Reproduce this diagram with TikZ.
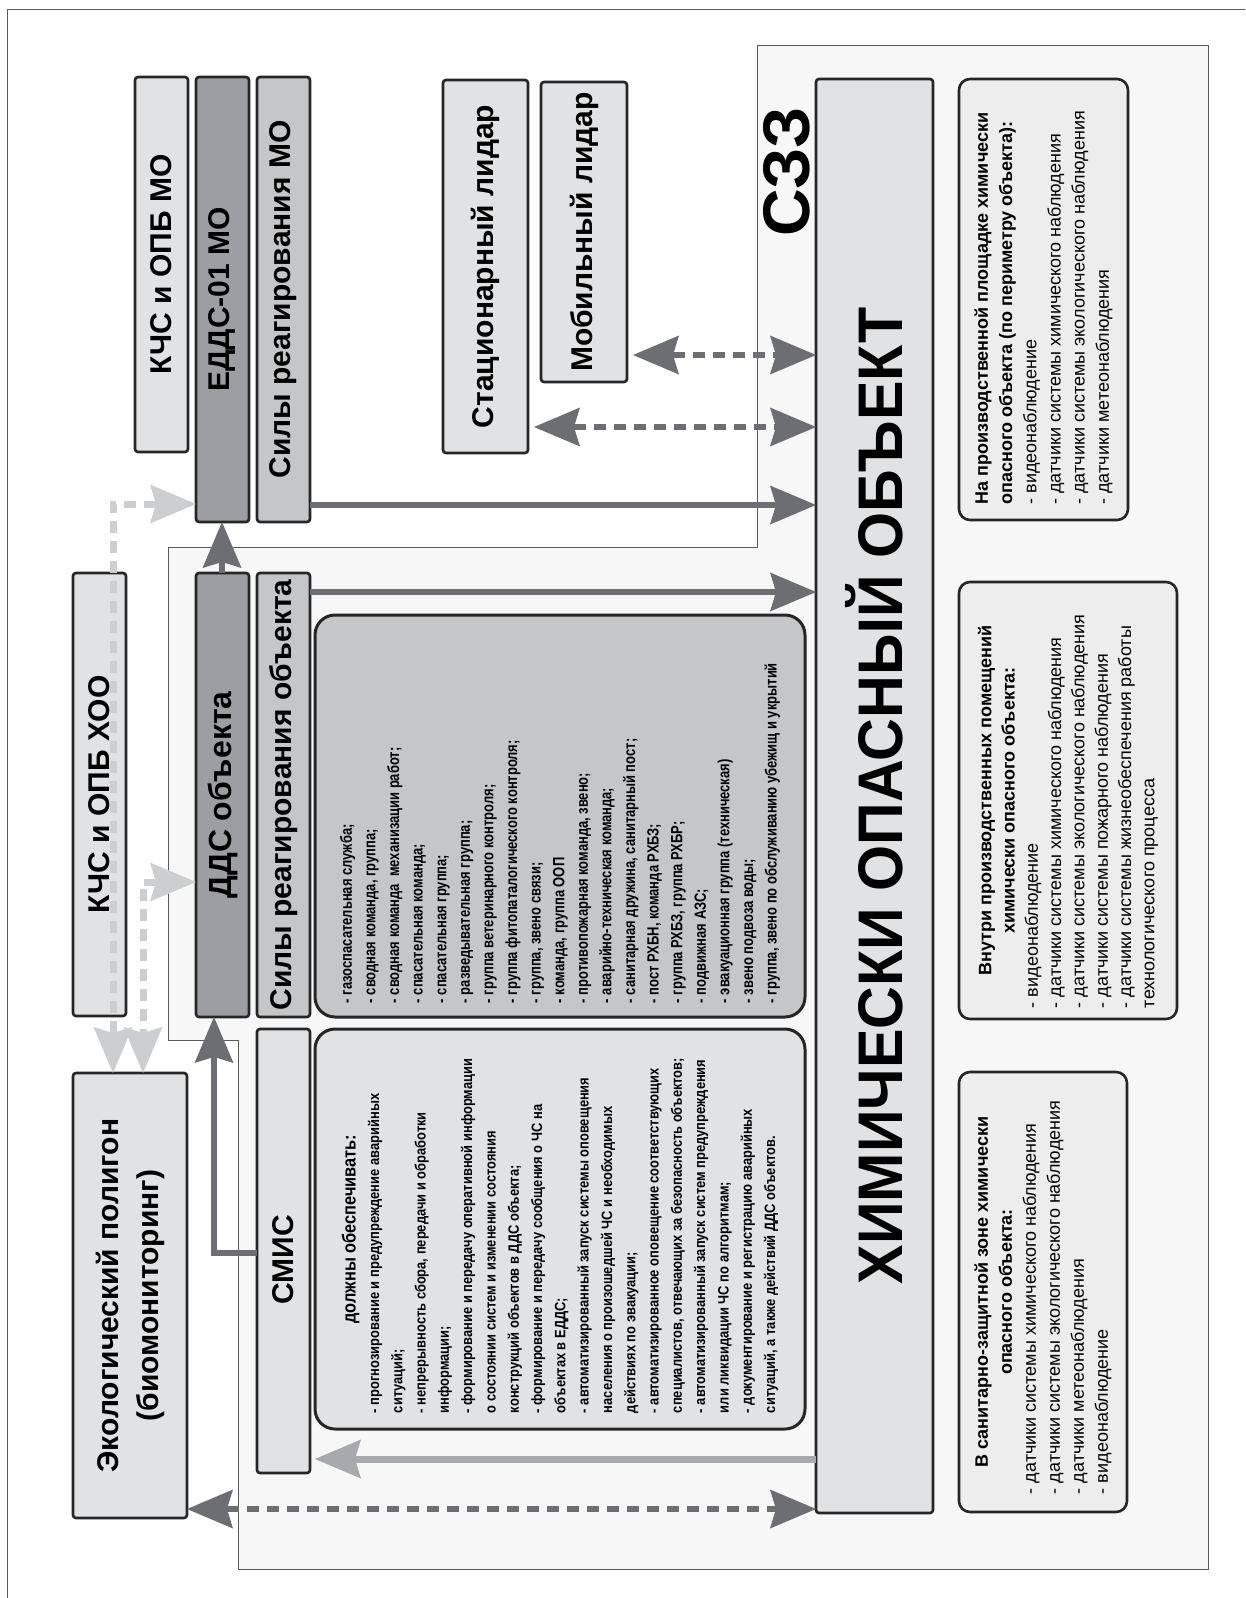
\documentclass[tikz,border=0pt]{standalone}
\usepackage{fontspec}
\setmainfont{Liberation Sans}
\newfontfamily\titlefont[FakeStretch=0.94]{Liberation Sans}
\newfontfamily\listfont[FakeStretch=0.86]{Liberation Sans}
\newfontfamily\narrowfont[FakeStretch=0.8]{Liberation Sans}
\usepackage{graphicx}
\usetikzlibrary{arrows.meta}

\definecolor{boxlight}{HTML}{E1E2E4}
\definecolor{boxmid}{HTML}{C5C6C8}
\definecolor{boxdark}{HTML}{9D9EA1}
\definecolor{infofill}{HTML}{EDEDED}
\definecolor{zonefill}{HTML}{F7F7F7}
\definecolor{arrowdark}{HTML}{6D6E71}
\definecolor{arrowlight}{HTML}{CDCED0}
\definecolor{arrowmid}{HTML}{A7A9AC}
\definecolor{framegray}{HTML}{5A5A5A}

\begin{document}
\begin{tikzpicture}[x=1pt,y=-1pt,
	bigtip/.tip={Stealth[length=46pt,width=39pt,inset=6pt,line width=0pt]},
	box/.style={draw=black!85,line width=2.6pt,rounded corners=3pt,inner sep=0pt,outer sep=0pt,anchor=north west},
	light box/.style={box,fill=boxlight},
	mid box/.style={box,fill=boxmid},
	dark box/.style={box,fill=boxdark},
	list box/.style={box,line width=3pt,rounded corners=20pt},
	info box/.style={box,fill=infofill,rounded corners=11pt},
	head font/.style={font=\bfseries\fontsize{30}{36}\selectfont},
	darrow/.style={draw=arrowdark,line width=6pt,-bigtip},
	ddash/.style={draw=arrowdark,line width=6pt,dash pattern=on 12pt off 8pt,bigtip-bigtip},
	ldash/.style={draw=arrowlight,line width=7pt,dash pattern=on 12pt off 8pt,bigtip-bigtip},
	larrow/.style={draw=arrowmid,line width=7pt,-bigtip}]

	\useasboundingbox (0,0) rectangle (1245,1598);
	\clip (0,0) rectangle (1245,1598);

	% frame and the sanitary zone
	\draw[framegray,line width=1pt] (7,9) rectangle (1270,1630);
	\draw[draw=framegray,line width=1pt,fill=zonefill] (757,45) -- (1208,45) -- (1208,1569) -- (238,1569)
		-- (238,1040) -- (168,1040) -- (168,547) -- (757,547) -- cycle;
	\node[font=\bfseries\fontsize{66}{70}\selectfont] (szz) at (787,172) {\rotatebox{90}{СЗЗ}};

	% municipal level
	\node[light box,minimum width=53pt,minimum height=375pt,head font] (kchsmo) at (135,77) {\rotatebox{90}{КЧС и ОПБ МО}};
	\node[dark box,minimum width=53pt,minimum height=445pt,head font] (eddsmo) at (196,77) {\rotatebox{90}{ЕДДС-01 МО}};
	\node[mid box,minimum width=53pt,minimum height=445pt,head font] (silymo) at (257,77) {\rotatebox{90}{Силы реагирования МО}};

	\node[light box,minimum width=85pt,minimum height=373pt,head font] (statlidar) at (443,80) {\rotatebox{90}{Стационарный лидар}};
	\node[light box,minimum width=86pt,minimum height=300pt,head font] (moblidar) at (541,82) {\rotatebox{90}{Мобильный лидар}};

	% object level
	\node[light box,minimum width=53pt,minimum height=443pt,head font] (kchshoo) at (73,573) {\rotatebox{90}{КЧС и ОПБ ХОО}};
	\node[light box,minimum width=114pt,minimum height=445pt,head font] (ekopol) at (73,1073)
		{\rotatebox{90}{\parbox{380pt}{\centering\fontsize{30}{40}\selectfont Экологический полигон\\(биомониторинг)}}};
	\node[dark box,minimum width=53pt,minimum height=444pt,head font,font=\bfseries\fontsize{32}{36}\selectfont] (ddsobj) at (196,573) {\rotatebox{90}{ДДС объекта}};
	\node[mid box,minimum width=53pt,minimum height=444pt,head font] (silyobj) at (257,573) {\rotatebox{90}{Силы реагирования объекта}};
	\node[light box,minimum width=53pt,minimum height=444pt,head font] (smis) at (257,1029) {\rotatebox{90}{СМИС\hspace*{18pt}}};

	\node[list box,fill=boxmid,minimum width=490pt,minimum height=402pt] (silylist) at (315,615)
		{\rotatebox{90}{\parbox{374pt}{\narrowfont\bfseries\fontsize{16.2}{23.6}\selectfont\raggedright
		- газоспасательная служба;\\
		- сводная команда, группа;\\
		- сводная команда \ механизации работ;\\
		- спасательная команда;\\
		- спасательная группа;\\
		- разведывательная группа;\\
		- группа ветеринарного контроля;\\
		- группа фитопаталогического контроля;\\
		- группа, звено связи;\\
		- команда, группа ООП\\
		- противопожарная команда, звено;\\
		- аварийно-техническая команда;\\
		- санитарная дружина, санитарный пост;\\
		- пост РХБН, команда РХБЗ;\\
		- группа РХБЗ, группа РХБР;\\
		- подвижная АЗС;\\
		- эвакуационная группа (техническая)\\
		- звено подвоза воды;\\
		- группа, звено по обслуживанию убежищ и укрытий}}};

	\node[list box,fill=boxlight,minimum width=490pt,minimum height=400pt] (smislist) at (315,1029)
		{\rotatebox{90}{\parbox{368pt}{\listfont\bfseries\fontsize{15}{23.3}\selectfont
		\centering{\fontsize{19}{23.3}\selectfont должны обеспечивать:}\par\raggedright
		- прогнозирование и предупреждение аварийных\\
		ситуаций;\\
		- непрерывность сбора, передачи и обработки\\
		информации;\\
		- формирование и передачу оперативной информации\\
		о состоянии систем и изменении состояния\\
		конструкций объектов в ДДС объекта;\\
		- формирование и передачу сообщения о ЧС на\\
		объектах в ЕДДС;\\
		- автоматизированный запуск системы оповещения\\
		населения о произошедшей ЧС и необходимых\\
		действиях по эвакуации;\\
		- автоматизированное оповещение соответствующих\\
		специалистов, отвечающих за безопасность объектов;\\
		- автоматизированный запуск систем предупреждения\\
		или ликвидации ЧС по алгоритмам;\\
		- документирование и регистрацию аварийных\\
		ситуаций, а также действий ДДС объектов.}}};

	% the object itself
	\node[light box,minimum width=117pt,minimum height=1434pt,font=\titlefont\bfseries\fontsize{63}{70}\selectfont] (hoo) at (816,79)
		{\rotatebox{90}{ХИМИЧЕСКИ ОПАСНЫЙ ОБЪЕКТ}};

	\node[info box,minimum width=169pt,minimum height=441pt] (infoplosh) at (959,79)
		{\rotatebox{90}{\parbox{410pt}{\fontsize{18}{24.2}\selectfont\raggedright
		\textbf{На производственной площадке химически}\\
		\textbf{опасного объекта (по периметру объекта):}\\
		- видеонаблюдение\\
		- датчики системы химического наблюдения\\
		- датчики системы экологического наблюдения\\
		- датчики метеонаблюдения}}};
	\node[info box,minimum width=218pt,minimum height=437pt] (infovnutri) at (959,582)
		{\rotatebox{90}{\parbox{415pt}{\fontsize{18}{23.3}\selectfont
		\centering\textbf{Внутри производственных помещений}\\
		\textbf{химически опасного объекта:}\par\raggedright
		- видеонаблюдение\\
		- датчики системы химического наблюдения\\
		- датчики системы экологического наблюдения\\
		- датчики системы пожарного наблюдения\\
		- датчики системы жизнеобеспечения работы\\
		технологического процесса}}};
	\node[info box,minimum width=168pt,minimum height=440pt] (infoszz) at (959,1072)
		{\rotatebox{90}{\parbox{404pt}{\fontsize{18}{24}\selectfont
		\centering\textbf{В санитарно-защитной зоне химически}\\
		\textbf{опасного объекта:}\par\raggedright
		- датчики системы химического наблюдения\\
		- датчики системы экологического наблюдения\\
		- датчики метеонаблюдения\\
		- видеонаблюдение}}};

	% connectors
	\draw[darrow] (silymo.east |- 0,505) -- (hoo.west |- 0,505);
	\draw[darrow] (silyobj.east |- 0,592) -- (hoo.west |- 0,592);
	\draw[darrow] (ddsobj.north -| 222,0) -- (eddsmo.south -| 222,0);
	\draw[darrow] (smis.west |- 0,1253) -| (ddsobj.south -| 214,0);
	\draw[larrow,shorten >=5pt] (hoo.west |- 0,1459) -- (smis.east |- 0,1459);
	\draw[ddash,shorten <=6pt] (statlidar.east |- 0,427) -- (hoo.west |- 0,427);
	\draw[ddash,shorten <=6pt] (moblidar.east |- 0,355) -- (hoo.west |- 0,355);
	\draw[ddash] (ekopol.east |- 0,1509) -- (hoo.west |- 0,1509);
	\draw[ldash] (eddsmo.west |- 0,504) -| (ekopol.north -| 113,0);
	\draw[ldash] (ddsobj.west |- 0,882) -| (ekopol.north -| 143,0);

\end{tikzpicture}
\end{document}
